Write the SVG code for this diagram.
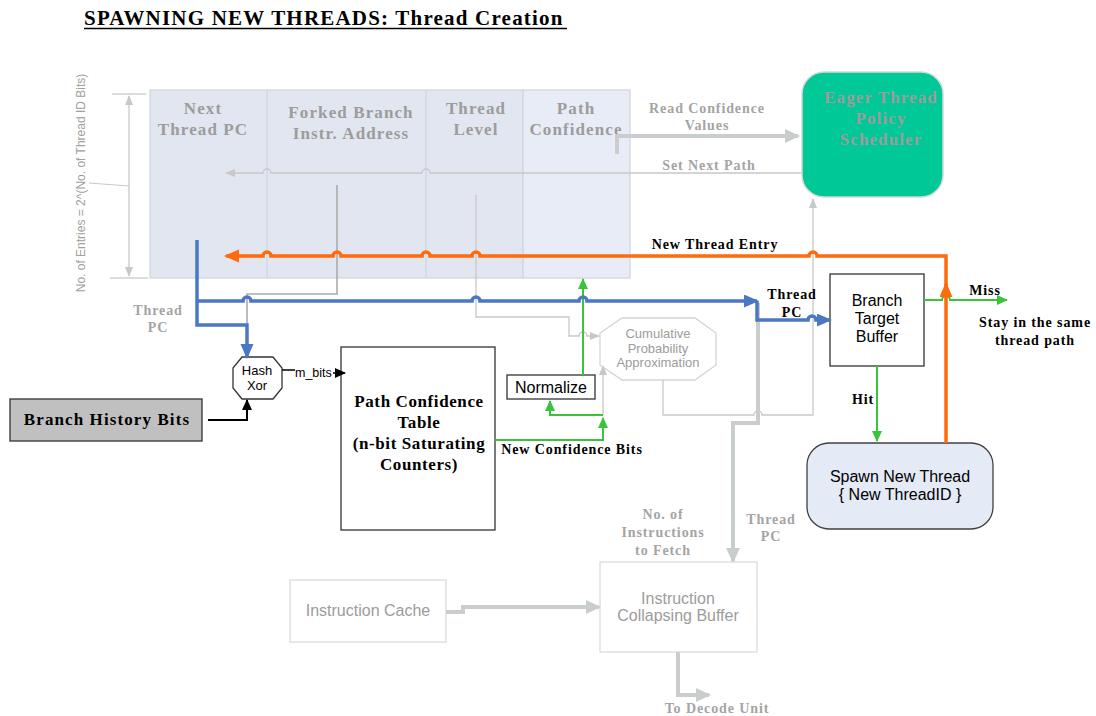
<svg xmlns="http://www.w3.org/2000/svg" width="1096" height="716" viewBox="0 0 1096 716">
  <style>
    .ttl { font-family: "Liberation Serif", "Times New Roman", serif; font-weight: bold; font-size: 21px; fill: #000; letter-spacing: 1.2px; }
    .hdr { font-family: "Liberation Serif", serif; font-weight: bold; font-size: 17px; fill: #9c9c9c; letter-spacing: 1.1px; text-anchor: middle; }
    .glab { font-family: "Liberation Serif", serif; font-weight: bold; font-size: 14px; fill: #a4a4a4; letter-spacing: 0.9px; text-anchor: middle; }
    .blab { font-family: "Liberation Serif", serif; font-weight: bold; font-size: 14px; fill: #000; letter-spacing: 0.9px; text-anchor: middle; }
    .big { font-family: "Liberation Serif", serif; font-weight: bold; font-size: 17px; fill: #000; text-anchor: middle; }
    .sans { font-family: "Liberation Sans", Arial, sans-serif; font-size: 16px; fill: #000; text-anchor: middle; }
    .gsans { font-family: "Liberation Sans", Arial, sans-serif; font-size: 16px; fill: #9c9c9c; text-anchor: middle; }
    .small { font-size: 13px; }
    .thin { fill: none; stroke: #c8c8c8; stroke-width: 1.3; }
    .thick { fill: none; stroke: #c9cdcd; stroke-width: 4; }
    .orange { fill: none; stroke: #ff6a0a; stroke-width: 3.5; }
    .blue { fill: none; stroke: #4a78c4; stroke-width: 3.5; }
    .green { fill: none; stroke: #3ac43a; stroke-width: 2; }
    .black { fill: none; stroke: #000; stroke-width: 2; }
  </style>
  <defs>
    <marker id="aOrange" markerUnits="userSpaceOnUse" markerWidth="16" markerHeight="14" refX="13" refY="6.5" orient="auto">
      <path d="M0,0 L15,6.5 L0,13 z" fill="#ff6a0a"/>
    </marker>
    <marker id="aBlue" markerUnits="userSpaceOnUse" markerWidth="16" markerHeight="14" refX="13" refY="6.5" orient="auto">
      <path d="M0,0 L15,6.5 L0,13 z" fill="#4a78c4"/>
    </marker>
    <marker id="aGreen" markerUnits="userSpaceOnUse" markerWidth="12" markerHeight="11" refX="10" refY="5" orient="auto">
      <path d="M0,0 L11,5 L0,10 z" fill="#3ac43a"/>
    </marker>
    <marker id="aThick" markerUnits="userSpaceOnUse" markerWidth="16" markerHeight="15" refX="13" refY="7" orient="auto">
      <path d="M0,0 L15,7 L0,14 z" fill="#c9cdcd"/>
    </marker>
    <marker id="aThin" markerUnits="userSpaceOnUse" markerWidth="11" markerHeight="9" refX="9" refY="4" orient="auto-start-reverse">
      <path d="M0,0 L10,4 L0,8 z" fill="#c8c8c8"/>
    </marker>
    <marker id="aBlack" markerUnits="userSpaceOnUse" markerWidth="12" markerHeight="11" refX="10" refY="5" orient="auto">
      <path d="M0,0 L11,5 L0,10 z" fill="#000"/>
    </marker>
  </defs>

  <rect width="1096" height="716" fill="#fff"/>

  <!-- title -->
  <text class="ttl" x="84" y="25" font-family="Liberation Serif, serif">SPAWNING NEW THREADS: Thread Creation</text>
  <line x1="84" y1="28.5" x2="567" y2="28.5" stroke="#000" stroke-width="1.3"/>

  <!-- thread table -->
  <g id="thread-table">
    <rect x="150" y="90" width="373" height="188" fill="#e1e6f0" stroke="#d2d6dc" stroke-width="1.3"/>
    <rect x="523" y="90" width="107" height="188" fill="#e7ecf6" stroke="#d2d6dc" stroke-width="1.3"/>
    <line x1="267" y1="90" x2="267" y2="278" stroke="#d2d6dc" stroke-width="1.3"/>
    <line x1="426" y1="90" x2="426" y2="278" stroke="#d2d6dc" stroke-width="1.3"/>
    <text class="hdr" x="203" y="114">Next</text>
    <text class="hdr" x="203" y="135">Thread PC</text>
    <text class="hdr" x="351" y="118">Forked Branch</text>
    <text class="hdr" x="351" y="139">Instr. Address</text>
    <text class="hdr" x="476" y="114">Thread</text>
    <text class="hdr" x="476" y="135">Level</text>
    <text class="hdr" x="576" y="114">Path</text>
    <text class="hdr" x="576" y="135">Confidence</text>
  </g>

  <!-- table height dimension -->
  <g id="entries-dimension">
    <line x1="112" y1="94" x2="146" y2="94" stroke="#d0d0d0" stroke-width="1.3"/>
    <line x1="110" y1="278" x2="148" y2="278" stroke="#d0d0d0" stroke-width="1.3"/>
    <path class="thin" d="M129 96 V276" marker-start="url(#aThin)" marker-end="url(#aThin)"/>
    <line x1="89" y1="183" x2="129" y2="186" stroke="#c8c8c8" stroke-width="1.2"/>
    <text transform="translate(85,183) rotate(-90)" font-family="Liberation Sans, Arial, sans-serif" font-size="12" fill="#a0a0a0" text-anchor="middle">No. of Entries = 2^(No. of Thread ID Bits)</text>
  </g>

  <!-- scheduler -->
  <g id="eager-scheduler">
    <rect x="802" y="72" width="141" height="125" rx="22" fill="#00c896" stroke="#d6d6d6" stroke-width="1.5"/>
    <text class="hdr" x="881" y="103">Eager Thread</text>
    <text class="hdr" x="881" y="124">Policy</text>
    <text class="hdr" x="881" y="145">Scheduler</text>
  </g>

  <!-- path confidence table -->
  <g id="pct">
    <rect x="341" y="347" width="154" height="183" fill="#fff" stroke="#333" stroke-width="1.3"/>
    <text class="big" x="419" y="407" letter-spacing="0.6">Path Confidence</text>
    <text class="big" x="419" y="428" letter-spacing="0.6">Table</text>
    <text class="big" x="419" y="449" letter-spacing="0.6">(n-bit Saturating</text>
    <text class="big" x="419" y="470" letter-spacing="0.6">Counters)</text>
  </g>

  <!-- hash -->
  <g id="hash-xor">
    <polygon points="242,357 273,357 282,368 282,388 273,399 242,399 233,388 233,368" fill="#fff" stroke="#333" stroke-width="1.3"/>
    <text class="sans small" x="257" y="375">Hash</text>
    <text class="sans small" x="257" y="390">Xor</text>
  </g>

  <!-- branch history -->
  <g id="branch-history">
    <rect x="10" y="399" width="192" height="42" fill="#c0c0c0" stroke="#333" stroke-width="1.3"/>
    <text class="big" x="107" y="425" letter-spacing="1.1">Branch History Bits</text>
  </g>

  <!-- normalize -->
  <g id="normalize">
    <rect x="507" y="375" width="88" height="24" fill="#fff" stroke="#333" stroke-width="1.3"/>
    <text class="sans" x="551" y="393">Normalize</text>
  </g>

  <!-- cumulative probability -->
  <g id="cumulative">
    <polygon points="622,318 695,318 716,333 716,365 695,380 622,380 600,365 600,333" fill="#fff" stroke="#d4d4d4" stroke-width="1.3"/>
    <text class="gsans small" x="658" y="338">Cumulative</text>
    <text class="gsans small" x="658" y="353">Probability</text>
    <text class="gsans small" x="658" y="367">Approximation</text>
  </g>

  <!-- BTB -->
  <g id="btb">
    <rect x="830" y="274" width="94" height="92" fill="#fff" stroke="#333" stroke-width="1.3"/>
    <text class="sans" x="877" y="306">Branch</text>
    <text class="sans" x="877" y="324">Target</text>
    <text class="sans" x="877" y="342">Buffer</text>
  </g>

  <!-- spawn -->
  <g id="spawn">
    <rect x="807" y="443" width="186" height="86" rx="22" fill="#e4eaf6" stroke="#404040" stroke-width="1.3"/>
    <text class="sans" x="900" y="482">Spawn New Thread</text>
    <text class="sans" x="900" y="500">{ New ThreadID }</text>
  </g>

  <!-- instruction cache -->
  <g id="icache">
    <rect x="290" y="580" width="156" height="62" fill="#fff" stroke="#dcdcdc" stroke-width="1.3"/>
    <text class="gsans" x="368" y="616">Instruction Cache</text>
  </g>

  <!-- collapsing buffer -->
  <g id="icb">
    <rect x="600" y="562" width="157" height="90" fill="#fff" stroke="#dcdcdc" stroke-width="1.3"/>
    <text class="gsans" x="678" y="604">Instruction</text>
    <text class="gsans" x="678" y="621">Collapsing Buffer</text>
  </g>

  <!-- connectors -->
  <g id="connectors">
    <!-- set next path -->
    <path class="thin" d="M801 173 H430 a4 4 0 0 0 -8 0 H271 a4 4 0 0 0 -8 0 H226" marker-end="url(#aThin)"/>
    <!-- read confidence values -->
    <path class="thick" d="M617 154 V136 H798" marker-end="url(#aThick)"/>
    <!-- forked branch address to hash -->
    <path d="M337 185 V294 H247 V325" fill="none" stroke="#acacac" stroke-width="1.6"/>
    <!-- thread level to cumulative -->
    <path class="thin" d="M476 195 V317 H569 V336 H579 a4 4 0 0 1 8 0 H599" marker-end="url(#aThin)"/>
    <!-- cumulative to scheduler -->
    <path class="thin" d="M663 380 V415 H754 a4 4 0 0 1 8 0 H813 V199" marker-end="url(#aThin)"/>
    <!-- confidence bits into cumulative -->
    <path class="thin" d="M603 415 V366" marker-end="url(#aThin)"/>
    <!-- thread pc to collapsing buffer -->
    <path class="thick" d="M758 303 V423 H733 V561" marker-end="url(#aThick)"/>
    <!-- icache to icb -->
    <path class="thick" d="M446 612 H463 V607 H599" marker-end="url(#aThick)"/>
    <!-- to decode -->
    <path class="thick" d="M678 652 V695 H709" marker-end="url(#aThick)"/>

    <!-- green -->
    <path class="green" d="M495 440 H603 V418" marker-end="url(#aGreen)"/>
    <path class="green" d="M603 415 H550 V401" marker-end="url(#aGreen)"/>
    <path class="green" d="M583 375 V279" marker-end="url(#aGreen)"/>
    <path class="green" d="M877 366 V441" marker-end="url(#aGreen)"/>
    <path class="green" d="M924 300 H942 a4 4 0 0 1 8 0 H1007" marker-end="url(#aGreen)"/>

    <!-- black -->
    <path class="black" d="M208 420 H247 V400" marker-end="url(#aBlack)"/>
    <path d="M282 370 H295 M333 373 H345" fill="none" stroke="#000" stroke-width="1.5" marker-end="url(#aBlack)"/>

    <!-- blue thread pc -->
    <path class="blue" d="M197 240 V325 H247 V357" marker-end="url(#aBlue)"/>
    <path class="blue" d="M197 301 H243 a4 4 0 0 1 8 0 H472 a4 4 0 0 1 8 0 H579 a4 4 0 0 1 8 0 H757" marker-end="url(#aBlue)"/>
    <path class="blue" d="M757 301 V320 H808 a4 4 0 0 1 8 0 H830" marker-end="url(#aBlue)"/>

    <!-- orange new thread entry -->
    <path class="orange" d="M946 443 V284" marker-end="url(#aOrange)"/>
    <path class="orange" d="M946 290 V256 H817 a4 4 0 0 0 -8 0 H480 a4 4 0 0 0 -8 0 H430 a4 4 0 0 0 -8 0 H341 a4 4 0 0 0 -8 0 H271 a4 4 0 0 0 -8 0 H226" marker-end="url(#aOrange)"/>
  </g>

  <!-- connector labels -->
  <g id="labels">
    <text class="glab" x="707" y="113">Read Confidence</text>
    <text class="glab" x="707" y="130">Values</text>
    <text class="glab" x="709" y="170">Set Next Path</text>
    <text class="blab" x="715" y="249">New Thread Entry</text>
    <text class="glab" x="158" y="315">Thread</text>
    <text class="glab" x="158" y="332">PC</text>
    <text x="295" y="377" font-family="Liberation Sans, Arial, sans-serif" font-size="12.5" fill="#000">m_bits</text>
    <text class="blab" x="792" y="299">Thread</text>
    <text class="blab" x="792" y="317">PC</text>
    <text class="blab" x="572" y="454">New Confidence Bits</text>
    <text class="blab" x="863" y="404">Hit</text>
    <text class="blab" x="985" y="295">Miss</text>
    <text class="blab" x="1035" y="327">Stay in the same</text>
    <text class="blab" x="1035" y="345">thread path</text>
    <text class="glab" x="663" y="519">No. of</text>
    <text class="glab" x="663" y="537">Instructions</text>
    <text class="glab" x="663" y="555">to Fetch</text>
    <text class="glab" x="771" y="524">Thread</text>
    <text class="glab" x="771" y="541">PC</text>
    <text class="glab" x="717" y="713">To Decode Unit</text>
  </g>
</svg>
